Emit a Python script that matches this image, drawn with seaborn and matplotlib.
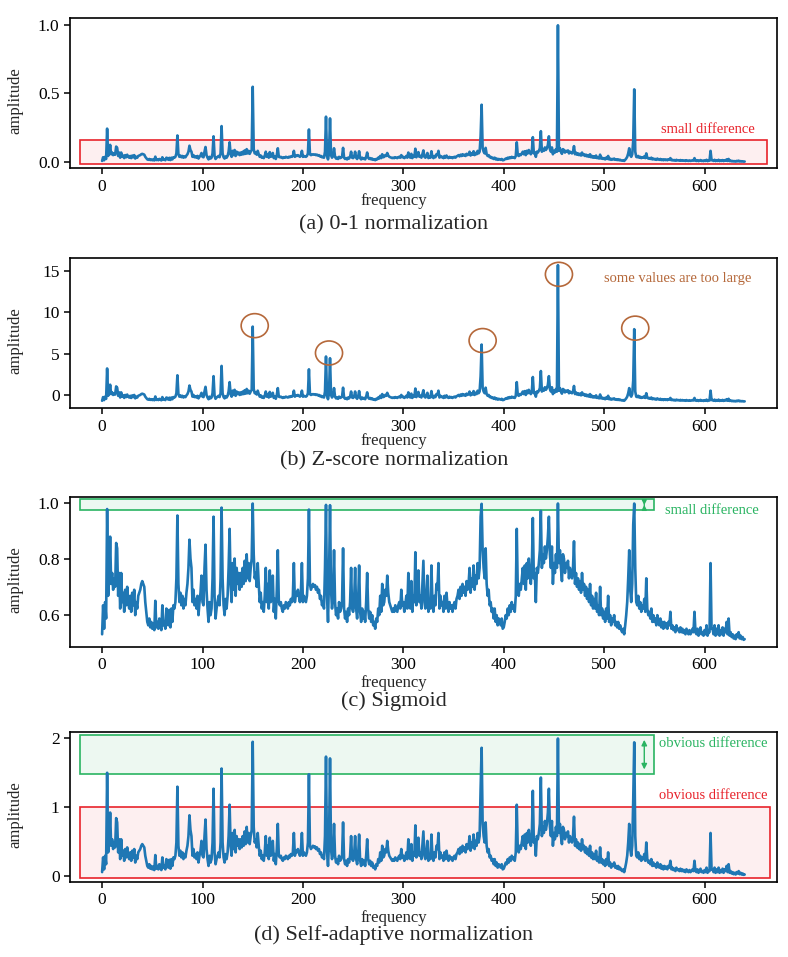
import numpy as np
import pandas as pd
import matplotlib
matplotlib.use("Agg")
import matplotlib.pyplot as plt
import seaborn as sns
from matplotlib.patches import Rectangle, Ellipse

# raw spectrum amplitude, one value per frequency bin (0..640)
amp_raw = [
    0.12, 0.55, 0.2, 0.6, 0.35, 3.9, 0.7, 1.0, 2.0, 0.9,
    1.1, 0.8, 1.0, 0.85, 1.8, 1.65, 0.7, 1.1, 0.5, 1.1,
    0.6, 0.75, 0.45, 0.8, 0.55, 0.85, 0.6, 0.5, 0.7, 0.45,
    0.75, 0.55, 0.8, 0.4, 0.6, 0.5, 0.7, 0.75, 0.8, 0.9,
    0.95, 0.9, 0.85, 0.6, 0.45, 0.3, 0.25, 0.35, 0.22, 0.3,
    0.2, 0.28, 0.18, 0.62, 0.22, 0.3, 0.2, 0.35, 0.25, 0.18,
    0.55, 0.25, 0.3, 0.2, 0.5, 0.45, 0.25, 0.48, 0.22, 0.5,
    0.3, 0.55, 0.5, 0.6, 1.0, 3.1, 0.9, 0.6, 0.75, 0.55,
    0.7, 0.5, 0.65, 0.55, 0.75, 0.9, 1.2, 1.9, 1.4, 1.2,
    0.6, 0.8, 0.55, 0.65, 0.5, 0.7, 0.4, 0.6, 0.75, 1.05,
    0.6, 0.55, 1.2, 1.75, 0.8, 0.5, 0.3, 0.6, 0.4, 0.5,
    1.0, 3.0, 0.7, 0.35, 0.5, 0.6, 0.7, 0.55, 1.0, 4.2,
    1.0, 0.55, 0.4, 0.65, 0.5, 0.7, 1.2, 2.3, 0.9, 0.6,
    1.3, 0.8, 1.4, 0.7, 1.2, 0.9, 1.1, 0.8, 1.1, 0.85,
    1.2, 0.9, 1.35, 0.95, 1.5, 1.0, 1.3, 0.95, 1.2, 1.4,
    8.8, 1.5, 1.0, 1.1, 0.85, 1.3, 0.9, 0.6, 0.75, 0.5,
    0.6, 0.45, 0.7, 1.2, 0.6, 0.9, 0.5, 1.15, 0.6, 0.7,
    1.05, 0.45, 0.65, 0.35, 0.8, 1.6, 0.6, 0.55, 0.6, 0.5,
    0.45, 0.55, 0.5, 0.6, 0.55, 0.5, 0.6, 0.55, 0.65, 0.6,
    0.7, 1.3, 0.6, 0.75, 0.7, 0.8, 0.7, 0.6, 0.75, 1.3,
    0.6, 0.7, 0.65, 0.6, 0.7, 1.0, 3.8, 0.9, 0.8, 0.85,
    0.9, 0.85, 0.88, 0.8, 0.85, 0.75, 0.8, 0.65, 0.7, 0.55,
    0.6, 0.5, 1.2, 5.3, 0.7, 0.3, 1.0, 5.1, 0.8, 0.5,
    0.7, 1.6, 0.6, 0.4, 0.5, 0.35, 0.6, 0.45, 0.5, 0.6,
    1.65, 0.5, 0.35, 0.45, 0.3, 0.5, 0.4, 0.6, 1.2, 0.5,
    0.45, 0.6, 1.2, 0.5, 0.35, 0.6, 1.25, 0.45, 0.3, 0.5,
    0.35, 0.45, 0.3, 0.6, 1.1, 0.5, 0.35, 0.45, 0.3, 0.4,
    0.25, 0.3, 0.2, 0.35, 0.3, 0.5, 0.4, 0.7, 0.45, 0.9,
    0.55, 0.6, 0.8, 0.7, 1.05, 0.75, 0.6, 0.55, 0.5, 0.45,
    0.5, 0.45, 0.55, 0.5, 0.45, 0.55, 0.6, 0.5, 0.8, 0.55,
    0.6, 0.45, 0.55, 0.7, 0.5, 1.1, 0.6, 0.5, 0.95, 0.45,
    0.7, 0.6, 1.55, 0.55, 0.8, 1.15, 0.6, 0.7, 0.5, 0.9,
    1.35, 0.6, 0.5, 0.7, 1.05, 0.45, 0.6, 0.5, 1.25, 0.6,
    0.45, 0.7, 0.55, 0.9, 0.8, 1.3, 0.5, 0.7, 0.55, 0.6,
    0.45, 0.7, 0.5, 0.75, 0.55, 0.45, 0.6, 0.5, 0.55, 0.45,
    0.55, 0.6, 0.5, 0.65, 0.7, 0.8, 0.65, 0.85, 0.7, 0.9,
    0.75, 0.85, 0.7, 0.95, 0.8, 0.9, 1.2, 0.75, 1.0, 0.85,
    1.25, 0.8, 1.05, 0.9, 1.3, 1.0, 1.2, 3.0, 6.7, 1.6,
    1.2, 1.0, 1.65, 0.9, 0.7, 0.8, 0.55, 0.6, 0.45, 0.5,
    0.35, 0.5, 0.3, 0.4, 0.25, 0.35, 0.3, 0.25, 0.35, 0.2,
    0.22, 0.3, 0.4, 0.35, 0.5, 0.4, 0.55, 0.45, 0.6, 0.5,
    0.55, 0.45, 0.7, 2.3, 0.8, 0.7, 0.9, 0.8, 1.0, 1.2,
    0.9, 1.25, 0.8, 1.3, 1.0, 1.4, 1.1, 0.9, 1.2, 2.9,
    1.0, 1.1, 0.6, 1.2, 1.1, 1.3, 1.6, 3.6, 1.2, 1.5,
    1.3, 1.7, 1.4, 1.6, 2.0, 3.0, 1.5, 1.2, 1.7, 0.9,
    1.3, 1.1, 1.5, 1.2, 16.0, 1.3, 1.6, 1.2, 0.95, 1.5,
    1.4, 1.1, 1.3, 1.2, 1.35, 1.0, 1.2, 1.1, 1.0, 1.2,
    1.85, 0.9, 1.1, 0.85, 1.0, 0.8, 0.95, 0.75, 1.1, 0.8,
    0.9, 0.7, 0.85, 0.65, 0.8, 0.6, 0.9, 0.55, 0.7, 0.5,
    0.65, 0.5, 0.75, 0.45, 0.55, 0.4, 0.85, 0.4, 0.5, 0.35,
    0.45, 0.3, 0.5, 0.35, 0.7, 0.3, 0.4, 0.25, 0.35, 0.3,
    0.4, 0.25, 0.3, 0.22, 0.3, 0.2, 0.25, 0.18, 0.15, 0.2,
    0.12, 0.25, 0.4, 0.6, 1.0, 1.6, 0.8, 0.6, 0.9, 2.5,
    8.5, 1.2, 0.6, 0.55, 0.7, 0.5, 0.6, 0.45, 0.55, 0.5,
    0.65, 0.45, 1.0, 0.5, 0.4, 0.45, 0.35, 0.5, 0.3, 0.4,
    0.3, 0.35, 0.25, 0.4, 0.3, 0.25, 0.35, 0.22, 0.3, 0.2,
    0.3, 0.22, 0.28, 0.2, 0.3, 0.25, 0.45, 0.2, 0.25, 0.18,
    0.22, 0.15, 0.25, 0.18, 0.2, 0.15, 0.22, 0.15, 0.2, 0.14,
    0.18, 0.12, 0.2, 0.15, 0.12, 0.18, 0.12, 0.15, 0.2, 0.15,
    0.45, 0.15, 0.12, 0.2, 0.1, 0.15, 0.22, 0.12, 0.15, 0.1,
    0.18, 0.12, 0.25, 0.1, 0.15, 0.15, 1.3, 0.2, 0.2, 0.12,
    0.25, 0.1, 0.2, 0.12, 0.25, 0.1, 0.18, 0.12, 0.22, 0.1,
    0.2, 0.15, 0.3, 0.12, 0.35, 0.1, 0.15, 0.08, 0.12, 0.06,
    0.1, 0.05, 0.12, 0.08, 0.15, 0.06, 0.1, 0.05, 0.08, 0.04,
    0.05,
]

captions = ["(a) 0-1 normalization", "(b) Z-score normalization",
            "(c) Sigmoid", "(d) Self-adaptive normalization"]
xticks = [0, 100, 200, 300, 400, 500, 600]
yticks = [[0.0, 0.5, 1.0], [0, 5, 10, 15], [0.6, 0.8, 1.0], [0, 1, 2]]
ytick_fmt = ["{:.1f}", "{:d}", "{:.1f}", "{:d}"]

# peaks circled in panel (b): (frequency, z value)
circled = [(152, 8.4), (226, 5.1), (379, 6.6), (455, 14.6), (531, 8.1)]

RED = "#e8232b"
GREEN = "#2ab462"
BROWN = "#b5683a"
BLUE = "#1f77b4"


def minmax(x):
    return (x - x.min()) / (x.max() - x.min())


def zscore(x):
    return (x - x.mean()) / x.std()


def sigmoid(x):
    return 1.0 / (1.0 + np.exp(-x))


def self_adaptive(x):
    return 2.0 * np.tanh(x / 4.0)


raw = np.array(amp_raw)
freq = np.arange(len(raw))
df = pd.DataFrame({
    "frequency": freq,
    "a": minmax(raw),
    "b": zscore(raw),
    "c": sigmoid(raw),
    "d": self_adaptive(raw),
})

sns.set_theme(style="ticks")
plt.rcParams["font.family"] = ["Liberation Serif", "DejaVu Serif"]
plt.rcParams["mathtext.fontset"] = "stix"

fig = plt.figure(figsize=(7.88, 9.57), dpi=100)
bottoms = [0.824, 0.5734, 0.3243, 0.0787]
cap_y = [0.765, 0.518, 0.2675, 0.023]
xlab_y = [-0.165, -0.165, -0.19, -0.19]
axes = []
for i, col in enumerate(["a", "b", "c", "d"]):
    ax = fig.add_axes([0.0888, bottoms[i], 0.897, 0.1567])
    sns.lineplot(data=df, x="frequency", y=col, ax=ax, color=BLUE,
                 linewidth=1.9, estimator=None, zorder=3)
    ax.set_xlim(-32, 672)
    v = df[col]
    pad = 0.05 * (v.max() - v.min())
    ax.set_ylim(v.min() - pad, v.max() + pad)
    ax.set_xticks(xticks)
    ax.set_yticks(yticks[i])
    ax.set_yticklabels([ytick_fmt[i].format(t) for t in yticks[i]])
    ax.tick_params(labelsize=12.5, length=4, width=1.1, color="black",
                   labelcolor="black")
    for s in ax.spines.values():
        s.set_linewidth(1.2)
        s.set_color("black")
    ax.set_xlabel("frequency", fontsize=12)
    ax.set_ylabel("amplitude", fontsize=12)
    ax.xaxis.set_label_coords(0.458, xlab_y[i])
    ax.yaxis.set_label_coords(-0.066, 0.45)
    fig.text(0.5, cap_y[i], captions[i], ha="center", va="center",
             fontsize=16)
    axes.append(ax)

ax_a, ax_b, ax_c, ax_d = axes

# (a) small difference box
ax_a.add_patch(Rectangle((-22, -0.015), 684, 0.175, facecolor="#fdeff0",
                         edgecolor=RED, linewidth=1.2, zorder=1))
ax_a.text(557, 0.235, "small difference", color=RED, fontsize=10.5,
          ha="left", va="center")

# (b) circles around big peaks
for fx, fy in circled:
    ax_b.add_patch(Ellipse((fx, fy), 27, 2.9, fill=False, edgecolor=BROWN,
                           linewidth=1.2, zorder=4))
ax_b.text(500, 14.1, "some values are too large", color=BROWN,
          fontsize=10.5, ha="left", va="center")

# (c) narrow band at the top
ax_c.add_patch(Rectangle((-22, 0.976), 572, 0.04, facecolor="#edf8f1",
                         edgecolor=GREEN, linewidth=1.2, zorder=1))
ax_c.annotate("", xy=(540, 1.005), xytext=(540, 0.984),
              arrowprops=dict(arrowstyle="<|-|>", color=GREEN, lw=1,
                              mutation_scale=7), zorder=5)
ax_c.text(561, 0.974, "small difference", color=GREEN, fontsize=10.5,
          ha="left", va="center")

# (d) two boxes
ax_d.add_patch(Rectangle((-22, 1.49), 572, 0.56, facecolor="#edf8f1",
                         edgecolor=GREEN, linewidth=1.2, zorder=1))
ax_d.add_patch(Rectangle((-22, -0.025), 687, 1.035, facecolor="#fdeff0",
                         edgecolor=RED, linewidth=1.2, zorder=1))
ax_d.annotate("", xy=(540, 2.02), xytext=(540, 1.51),
              arrowprops=dict(arrowstyle="<|-|>", color=GREEN, lw=1,
                              mutation_scale=8), zorder=5)
ax_d.text(555, 1.93, "obvious difference", color=GREEN, fontsize=10.5,
          ha="left", va="center")
ax_d.text(555, 1.17, "obvious difference", color=RED, fontsize=10.5,
          ha="left", va="center")

fig.savefig("out.png", dpi=100, facecolor="white")
